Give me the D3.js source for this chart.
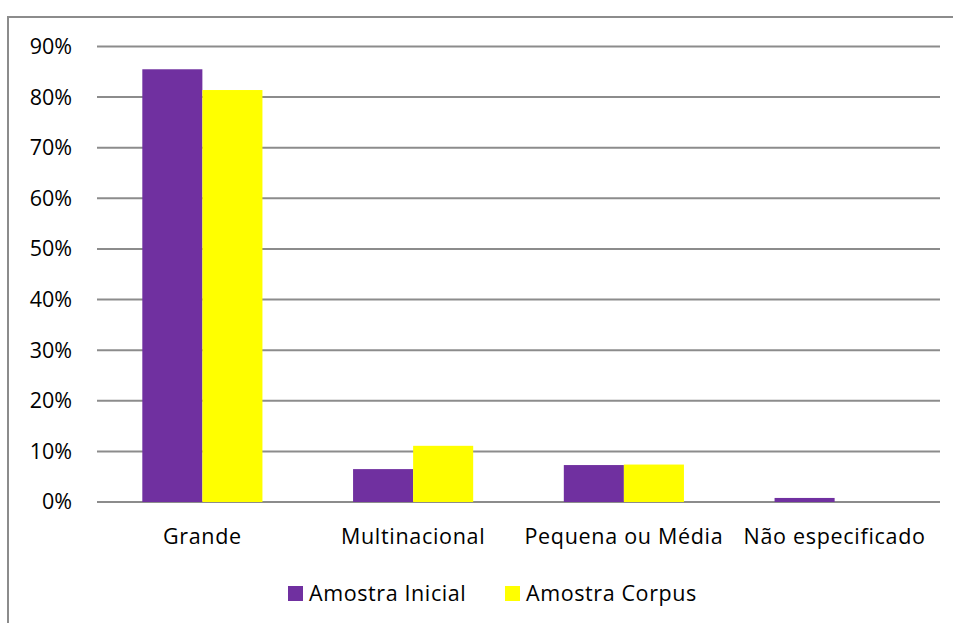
<!DOCTYPE html>
<html><head><meta charset="utf-8">
<script src="https://cdn.jsdelivr.net/npm/d3@7/dist/d3.min.js"></script>
<style>body{margin:0;background:#fff}svg{display:block}</style>
</head><body>
<script>
const categories = ["Grande", "Multinacional", "Pequena ou Média", "Não especificado"];
const seriesNames = ["Amostra Inicial", "Amostra Corpus"];
const amostraInicial = [0.855, 0.065, 0.073, 0.008];
const amostraCorpus = [0.814, 0.111, 0.074, 0.0];
const yTicks = [0, 0.1, 0.2, 0.3, 0.4, 0.5, 0.6, 0.7, 0.8, 0.9];
const colors = ["#7030a0", "#ffff00"];

(function () {
const W = 953, H = 623;
const svg = d3.select("body").append("svg").attr("width", W).attr("height", H);
const font = "'Open Sans', sans-serif";
const fs = 21.5;

// outer chart border
svg.append("rect").attr("x", 8).attr("y", 17).attr("width", 960).attr("height", 620)
  .attr("fill", "none").attr("stroke", "#8c8c8c").attr("stroke-width", 2);

const pLeft = 97, pRight = 940, pTop = 46.5, pBottom = 502;
const y = d3.scaleLinear().domain([0, 0.9]).range([pBottom, pTop]);
const x = d3.scaleBand().domain(categories).range([pLeft, pRight]).paddingInner(0.43).paddingOuter(0.215);
const xs = d3.scaleBand().domain(seriesNames).range([0, x.bandwidth()]);

// gridlines
svg.append("g").selectAll("line").data(yTicks).join("line")
  .attr("x1", pLeft).attr("x2", pRight)
  .attr("y1", d => y(d)).attr("y2", d => y(d))
  .attr("stroke", "#8c8c8c").attr("stroke-width", 2);

// y labels
const yAxis = d3.axisLeft(y).tickValues(yTicks).tickFormat(d3.format(".0%")).tickSize(0).tickPadding(25);
const ga = svg.append("g").attr("transform", `translate(${pLeft},0)`).call(yAxis);
ga.select(".domain").remove();
ga.selectAll("text").attr("font-family", font).attr("font-size", fs).attr("fill", "#000");

// bars
const data = categories.map((c, i) => ({c, vals: [amostraInicial[i], amostraCorpus[i]]}));
const groups = svg.append("g").selectAll("g").data(data).join("g")
  .attr("transform", d => `translate(${x(d.c)},0)`);
groups.selectAll("rect").data(d => d.vals.map((v, j) => ({v, s: seriesNames[j], j})))
  .join("rect")
  .attr("x", d => xs(d.s)).attr("width", xs.bandwidth())
  .attr("y", d => y(d.v)).attr("height", d => pBottom - y(d.v))
  .attr("fill", d => colors[d.j]);

// x labels
const xAxis = d3.axisBottom(x).tickSize(0).tickPadding(27);
const gx = svg.append("g").attr("transform", `translate(0,${pBottom})`).call(xAxis);
gx.select(".domain").remove();
gx.selectAll("text").attr("font-family", font).attr("font-size", fs).attr("fill", "#000")
  .attr("letter-spacing", "0.7px");

// legend
const legendX = [288, 505];
const leg = svg.append("g").selectAll("g").data(seriesNames).join("g")
  .attr("transform", (d, i) => `translate(${legendX[i]},586)`);
leg.append("rect").attr("width", 15).attr("height", 15).attr("fill", (d, i) => colors[i]);
leg.append("text").attr("x", 21).attr("y", 14.5)
  .attr("font-family", font).attr("font-size", fs).attr("fill", "#000")
  .attr("letter-spacing", "0.6px").text(d => d);
})();
</script>
</body></html>
